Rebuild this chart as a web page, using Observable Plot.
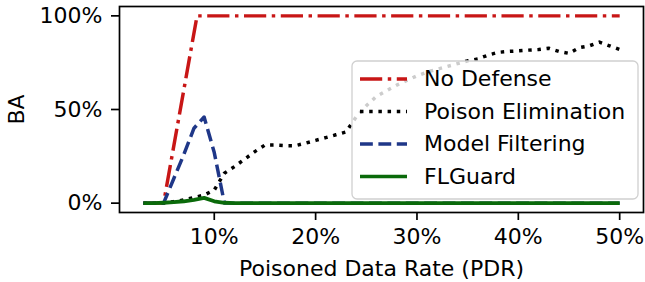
<!DOCTYPE html>
<html>
<head>
<meta charset="utf-8">
<script src="https://cdn.jsdelivr.net/npm/d3@7"></script>
<script src="https://cdn.jsdelivr.net/npm/@observablehq/plot@0.6"></script>
<style>
  html, body { margin: 0; padding: 0; background: #fff; }
  #wrap { position: relative; width: 645px; height: 282px; font-family: "DejaVu Sans", sans-serif; }
  .lg-box { position: absolute; left: 351px; top: 60px; width: 288px; height: 140px; }
  .lg-box svg { position: absolute; left: 0; top: 0; }
  .row { position: absolute; left: 0; height: 24px; width: 280px; }
  .row span { position: absolute; left: 73px; top: 0; line-height: 24px; font-size: 22px; color: #000; white-space: nowrap; }
</style>
</head>
<body>
<div id="wrap"></div>
<script>
// ---- data ----
const pdr = [3,4,5,6,7,8,9,10,11,12,13,14,15,16,17,18,19,20,21,22,23,24,25,26,27,28,29,30,31,32,33,34,35,36,37,38,39,40,41,42,43,44,45,46,47,48,49,50];

const noDefensePdr = [3, 5, 8.3, 50];
const noDefense    = [0, 0, 100, 100];

const poisonElimination = [0,0,0,0.8,1.7,3,4.3,7,16,19.5,23.5,27.5,31,31,30.7,30.7,32,33.5,35,36.5,38,46,52,57,60,63,65.5,68,70,71.5,73,74.5,76,77,79,80.5,81,81.3,81.7,82,82.7,81,80,83,84,86,84,82];

const modelFiltering = [0,0,0,13,26,40,46,27,0,0,0,0,0,0,0,0,0,0,0,0,0,0,0,0,0,0,0,0,0,0,0,0,0,0,0,0,0,0,0,0,0,0,0,0,0,0,0,0];

const flGuard = [0,0,0.2,0.5,1,1.8,2.8,1,0.2,0,0,0,0,0,0,0,0,0,0,0,0,0,0,0,0,0,0,0,0,0,0,0,0,0,0,0,0,0,0,0,0,0,0,0,0,0,0,0];

const seriesNames = ["No Defense", "Poison Elimination", "Model Filtering", "FLGuard"];
const yTicks = [0, 50, 100];
const xTicks = [10, 20, 30, 40, 50];
const xLabel = "Poisoned Data Rate (PDR)";
const yLabel = "BA";

// ---- styles ----
const lw = 3.47;
const fs = 22;
const styles = [
  {color: "#c81616", dash: `${6.4*lw},${1.6*lw},${1*lw},${1.6*lw}`},
  {color: "#000000", dash: `${1*lw},${1.65*lw}`},
  {color: "#1f3788", dash: `${3.7*lw},${1.6*lw}`},
  {color: "#0a6a0a", dash: null}
];

const tables = [
  noDefensePdr.map((x, i) => ({x, y: noDefense[i]})),
  pdr.map((x, i) => ({x, y: poisonElimination[i]})),
  pdr.map((x, i) => ({x, y: modelFiltering[i]})),
  pdr.map((x, i) => ({x, y: flGuard[i]}))
];

const pct = d => d + "%";

const chart = Plot.plot({
  width: 645,
  height: 282,
  marginLeft: 119,
  marginRight: 2,
  marginTop: 6,
  marginBottom: 70,
  style: {fontFamily: "DejaVu Sans", fontSize: fs + "px", color: "#000", background: "#fff", overflow: "visible"},
  x: {domain: [0.65, 52.35]},
  y: {domain: [-5, 105]},
  marks: [
    ...tables.map((t, i) => Plot.line(t, {
      x: "x", y: "y",
      stroke: styles[i].color,
      strokeWidth: i === 3 ? 3.8 : lw,
      strokeDasharray: styles[i].dash ?? undefined,
      strokeLinecap: "butt",
      strokeLinejoin: "round"
    })),
    Plot.frame({stroke: "#000", strokeWidth: 1.7}),
    Plot.axisX({ticks: xTicks, tickFormat: pct, tickSize: 8, tickPadding: 8, strokeWidth: 1.7, label: null, fontSize: fs}),
    Plot.axisY({ticks: yTicks, tickFormat: pct, tickSize: 8, tickPadding: 9, strokeWidth: 1.7, label: null, fontSize: fs}),
    Plot.text([xLabel], {text: d => d, frameAnchor: "bottom", dy: 56, fontSize: fs, textAnchor: "middle", lineAnchor: "middle"}),
    Plot.text([yLabel], {text: d => d, frameAnchor: "left", dx: -103, rotate: -90, fontSize: fs, textAnchor: "middle", lineAnchor: "middle"})
  ]
});

const wrap = document.getElementById("wrap");
wrap.appendChild(chart);

// legend
const legend = document.createElement("div");
legend.className = "lg-box";
const rowCenters = [19, 51.5, 84, 116.5];
let svg = `<svg width="288" height="140"><rect x="1" y="1" width="286" height="138" rx="5" ry="5" fill="#ffffff" fill-opacity="0.8" stroke="#d0d0d0" stroke-width="1.3"/>`;
seriesNames.forEach((name, i) => {
  const dash = styles[i].dash ? `stroke-dasharray="${styles[i].dash}"` : "";
  svg += `<line x1="9" y1="${rowCenters[i]}" x2="56" y2="${rowCenters[i]}" stroke="${styles[i].color}" stroke-width="${lw}" ${dash}/>`;
});
svg += `</svg>`;
legend.innerHTML = svg;
seriesNames.forEach((name, i) => {
  const row = document.createElement("div");
  row.className = "row";
  row.style.top = (rowCenters[i] - 12) + "px";
  row.innerHTML = `<span>${name}</span>`;
  legend.appendChild(row);
});
wrap.appendChild(legend);
</script>
</body>
</html>
